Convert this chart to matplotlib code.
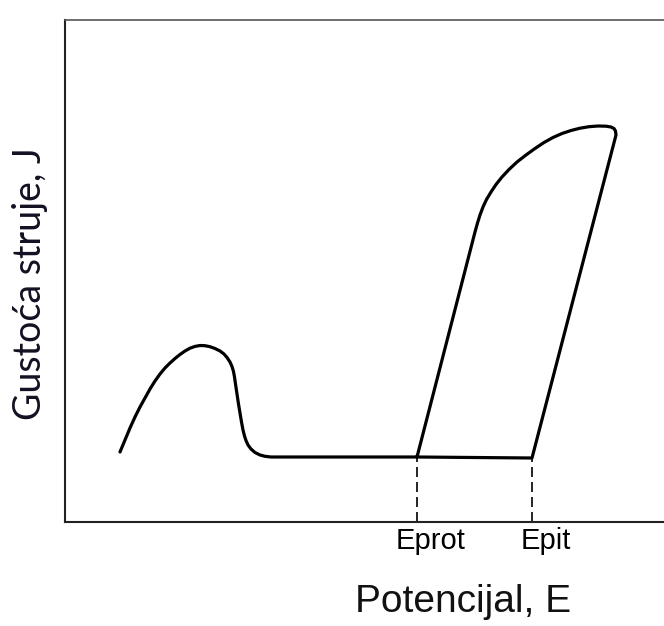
import matplotlib
matplotlib.use("Agg")
import matplotlib.pyplot as plt

# schematic polarisation curve (arbitrary units: potential E, current density J)
# active hump + passive plateau
hump_E = [55, 60, 65, 70, 75, 80, 85, 90, 95, 100, 105, 110, 115, 120, 125, 130,
          135, 140, 145, 150, 155, 159, 162, 165, 167, 168.5, 169.5, 170.5, 172,
          173.5, 175, 176.5, 178, 179.5, 181, 183, 186, 190, 195, 200, 206, 225]
hump_J = [70, 82, 94, 105, 115, 124, 133, 141, 148, 154, 159, 163.5, 167.5, 171, 173.8,
          175.6, 176.5, 176.3, 175.3, 173.5, 171, 168, 164.5, 160, 155.5, 150.5, 145,
          138, 128, 118, 109, 100, 92, 86, 81.5, 77, 73, 69.5, 67, 65.7, 65, 65]

# plateau to Epit, pitting rise, reverse scan back down to Eprot
loop_E = [352, 467, 551, 550.5, 549, 546, 541, 533, 524, 515, 506, 497, 488, 479,
          470, 461, 452, 444, 437, 431, 426, 421.5, 418, 415, 412.5, 410, 352]
loop_J = [65, 64, 387, 391, 393.5, 395, 395.8, 396, 395.3, 393.8, 391.5, 388.5,
          384.5, 379.5, 373.5, 367, 360, 352.5, 345, 337.5, 330, 322.5, 315, 307,
          299, 290, 65]

marker_E = [352, 467]
marker_J = [65, 64]
marker_labels = ["Eprot", "Epit"]

fig = plt.figure(figsize=(6.64, 6.26), dpi=100)
ax = fig.add_axes([65 / 664, 1 - 522 / 626, (664 - 65) / 664, (522 - 20) / 626])

E = hump_E + loop_E
J = hump_J + loop_J
ax.plot(E, J, color="black", lw=2.3, solid_joinstyle="round", solid_capstyle="round")

for e, j in zip(marker_E, marker_J):
    ax.plot([e, e], [0, j], color="black", lw=1.2, dashes=(6, 3))

for e, lab in zip(marker_E, marker_labels):
    ax.text(e + 14, -19, lab, ha="center", va="center", fontsize=21,
            family="Liberation Sans", clip_on=False)

ax.set_xlim(0, 599)
ax.set_ylim(0, 502)
ax.set_xticks([])
ax.set_yticks([])
ax.spines["right"].set_visible(False)
ax.spines["top"].set_color("#555555")
ax.spines["top"].set_linewidth(1.2)
for s in ["left", "bottom"]:
    ax.spines[s].set_linewidth(1.5)
    ax.spines[s].set_color("#222222")

fig.text(463 / 664, 1 - 602 / 626, "Potencijal, E", ha="center", va="center",
         fontsize=28, family="Liberation Sans", color="#111111")
fig.text(30 / 664, 1 - 284 / 626, "Gustoća struje, J", ha="center", va="center",
         rotation=90, fontsize=27, family="Lato", color="#111122")

fig.savefig("out.png", dpi=100)
